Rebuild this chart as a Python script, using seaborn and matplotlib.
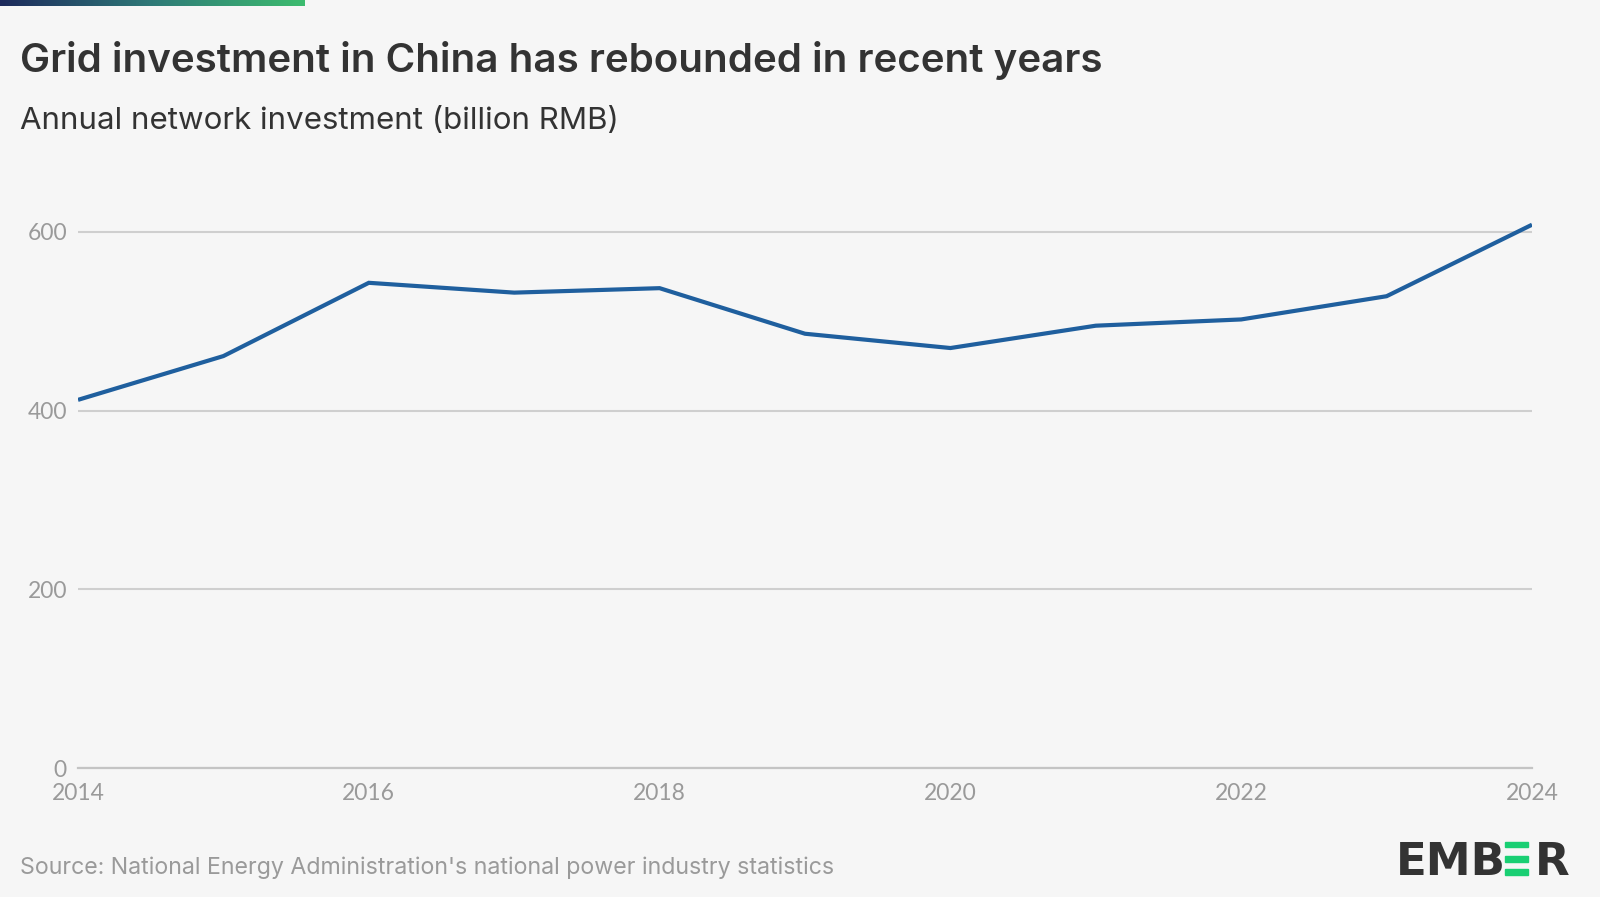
import numpy as np
import pandas as pd
import seaborn as sns
import matplotlib.pyplot as plt
from matplotlib.patches import Rectangle
from matplotlib.colors import LinearSegmentedColormap

# data (billion RMB)
years = [2014, 2015, 2016, 2017, 2018, 2019, 2020, 2021, 2022, 2023, 2024]
investment = [412, 461, 543, 532, 537, 486, 470, 495, 502, 528, 608]
y_ticks = [0, 200, 400, 600]
x_ticks = [2014, 2016, 2018, 2020, 2022, 2024]

title = "Grid investment in China has rebounded in recent years"
subtitle = "Annual network investment (billion RMB)"
source = "Source: National Energy Administration's national power industry statistics"

bg = "#f6f6f6"
line_col = "#1f5f9e"
grey = "#9a9a9a"
dark = "#333333"

sns.set_theme(style="white")
plt.rcParams['font.family'] = ['Lato', 'DejaVu Sans']

df = pd.DataFrame({"year": years, "investment": investment})

W, H = 1600, 897
fig = plt.figure(figsize=(W / 100, H / 100), dpi=100, facecolor=bg)
ax = fig.add_axes([78 / W, 1 - 768 / H, (1532 - 78) / W, (768 - 214) / H])
ax.set_facecolor(bg)

sns.lineplot(data=df, x="year", y="investment", ax=ax, color=line_col, linewidth=3.0,
             solid_capstyle="butt", solid_joinstyle="miter", zorder=3)

ax.set_xlim(2014, 2024)
ax.set_ylim(0, 620)
ax.set_yticks(y_ticks)
ax.set_xticks(x_ticks)
ax.grid(axis="y", color="#cfcfcf", linewidth=1.5)
ax.grid(axis="x", visible=False)
for s in ["top", "right", "left"]:
    ax.spines[s].set_visible(False)
ax.spines["bottom"].set_color("#c4c4c4")
ax.spines["bottom"].set_linewidth(1.6)
ax.tick_params(axis="y", length=0, pad=8, labelsize=16.5, labelcolor=grey)
ax.tick_params(axis="x", length=7, width=1.4, color="#b5b5b5", direction="out",
               pad=4, labelsize=16.5, labelcolor=grey)
ax.set_xlabel("")
ax.set_ylabel("")

# gradient bar at top left
grad = LinearSegmentedColormap.from_list("ember", ["#1d2a5c", "#2f7a78", "#3dbc6f"])
bar_ax = fig.add_axes([0, 1 - 6 / H, 305 / W, 6 / H])
bar_ax.imshow(np.linspace(0, 1, 256).reshape(1, -1), aspect="auto", cmap=grad)
bar_ax.axis("off")

fig.text(20 / W, 1 - 60 / H, title, fontsize=29, fontweight="semibold", color=dark,
         va="center", ha="left", family="Inter")
fig.text(20 / W, 1 - 121 / H, subtitle, fontsize=22.5, color=dark, va="center", ha="left",
         family="Inter")
fig.text(20 / W, 1 - 868 / H, source, fontsize=16.7, color=grey, va="center", ha="left",
         family="Inter")

# EMBER logo
base = 1 - 875 / H
fig.text(1396 / W, base, "EMB", fontsize=32.5, fontweight="bold", color=dark,
         va="baseline", ha="left", family="DejaVu Sans")
for top in [841.7, 856, 869.3]:
    fig.patches.append(Rectangle((1505 / W, 1 - (top + 5.7) / H), 23 / W, 5.7 / H,
                                 transform=fig.transFigure, color="#19cf73"))
fig.text(1535 / W, base, "R", fontsize=32.5, fontweight="bold", color=dark,
         va="baseline", ha="left", family="DejaVu Sans")

fig.savefig("out.png", dpi=100, facecolor=bg)
